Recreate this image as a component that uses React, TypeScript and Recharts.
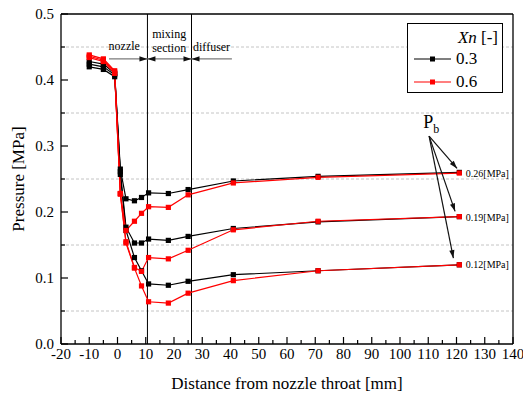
import React from "react";
import { ComposedChart, Line, XAxis, YAxis, ReferenceLine, ReferenceDot } from "recharts";

// distance from nozzle throat [mm]
const X_MM = [-10, -5, -1, 1, 3, 6, 8.5, 11, 18, 25, 41, 71, 121];

// Xn = 0.3 (black), one list per back pressure
const XN03_PB026 = [0.428, 0.424, 0.41, 0.265, 0.22, 0.217, 0.222, 0.229, 0.228, 0.234, 0.247, 0.254, 0.26];
const XN03_PB019 = [0.424, 0.42, 0.408, 0.261, 0.177, 0.153, 0.153, 0.159, 0.157, 0.163, 0.175, 0.185, 0.193];
const XN03_PB012 = [0.42, 0.416, 0.405, 0.257, 0.172, 0.131, 0.111, 0.091, 0.089, 0.095, 0.105, 0.111, 0.12];

// Xn = 0.6 (red)
const XN06_PB026 = [0.438, 0.432, 0.414, 0.228, 0.172, 0.186, 0.198, 0.208, 0.207, 0.226, 0.244, 0.2525, 0.259];
const XN06_PB019 = [0.436, 0.43, 0.412, 0.228, 0.155, 0.116, 0.11, 0.131, 0.129, 0.142, 0.173, 0.186, 0.193];
const XN06_PB012 = [0.434, 0.428, 0.41, 0.227, 0.153, 0.115, 0.088, 0.064, 0.062, 0.077, 0.096, 0.111, 0.12];

const X_TICKS = [-20, -15, -10, -5, 0, 5, 10, 15, 20, 25, 30, 35, 40, 45, 50, 55, 60, 65, 70, 75, 80, 85, 90, 95, 100, 105, 110, 115, 120, 125, 130, 135, 140];
const Y_TICKS = [0, 0.05, 0.1, 0.15, 0.2, 0.25, 0.3, 0.35, 0.4, 0.45, 0.5];
const GRID_Y = [0.05, 0.15, 0.25, 0.35, 0.45];
const SECTION_X = [10.6, 26.2];
const PB_LABELS = ["0.26[MPa]", "0.19[MPa]", "0.12[MPa]"];
const PB_LABEL_Y = [0.259, 0.192, 0.121];
const PB_ARROW_TO = [
  { x: 120.2, y: 0.266 },
  { x: 119.5, y: 0.201 },
  { x: 118.9, y: 0.13 },
];
const LEGEND_XN = ["0.3", "0.6"];

const BLACK = "#000000";
const RED = "#ff0000";
const FONT = '"Liberation Serif", "Times New Roman", serif';

const SERIES = [
  { key: "b26", color: BLACK, values: XN03_PB026 },
  { key: "b19", color: BLACK, values: XN03_PB019 },
  { key: "b12", color: BLACK, values: XN03_PB012 },
  { key: "r26", color: RED, values: XN06_PB026 },
  { key: "r19", color: RED, values: XN06_PB019 },
  { key: "r12", color: RED, values: XN06_PB012 },
];

const toPoints = (vals: number[]) => X_MM.map((x, i) => ({ x, y: vals[i] }));

const square = (color: string) => (p: any) => (
  <rect key={`sq-${p.index}`} x={p.cx - 2.6} y={p.cy - 2.6} width={5.2} height={5.2} fill={color} />
);

function makeTick(side: "bottom" | "top" | "left" | "right") {
  return (p: any) => {
    const { x, y, index, payload } = p;
    const major = index % 2 === 0;
    const len = major ? 7 : 4;
    let line;
    if (side === "bottom") line = <line x1={x} y1={y} x2={x} y2={y - len} />;
    else if (side === "top") line = <line x1={x} y1={y} x2={x} y2={y + len} />;
    else if (side === "left") line = <line x1={x} y1={y} x2={x + len} y2={y} />;
    else line = <line x1={x} y1={y} x2={x - len} y2={y} />;
    return (
      <g>
        <g stroke={BLACK} strokeWidth={1.2}>{line}</g>
        {major && side === "bottom" && (
          <text x={x} y={y + 15} textAnchor="middle" fontSize={15} fill={BLACK}>
            {payload.value}
          </text>
        )}
        {major && side === "left" && (
          <text x={x - 7} y={y + 5} textAnchor="end" fontSize={15} fill={BLACK}>
            {Number(payload.value).toFixed(1)}
          </text>
        )}
      </g>
    );
  };
}

const arrowShape = (startHead: boolean, endHead: boolean, lineColor: string) => (p: any) => {
  const { x1, y1, x2, y2 } = p;
  const a = Math.atan2(y2 - y1, x2 - x1);
  const head = (hx: number, hy: number, ang: number) => {
    const l = 8;
    const w = 2.6;
    const bx = hx - l * Math.cos(ang);
    const by = hy - l * Math.sin(ang);
    const px = -Math.sin(ang) * w;
    const py = Math.cos(ang) * w;
    return `${hx},${hy} ${bx + px},${by + py} ${bx - px},${by - py}`;
  };
  return (
    <g>
      <line x1={x1} y1={y1} x2={x2} y2={y2} stroke={lineColor} strokeWidth={1.2} />
      {endHead && <polygon points={head(x2, y2, a)} fill="#111" />}
      {startHead && <polygon points={head(x1, y1, a + Math.PI)} fill="#111" />}
    </g>
  );
};

const textAt = (value: string, size: number, anchor: "middle" | "start" = "middle") => ({
  content: (p: any) => {
    const vb = p.viewBox || {};
    return (
      <text x={vb.x} y={vb.y} dy="0.35em" textAnchor={anchor} fontSize={size} fill={BLACK} fontFamily={FONT}>
        {value}
      </text>
    );
  },
});

export default function App() {
  return (
    <div style={{ position: "absolute", left: 0, top: 0, width: 523, height: 399, background: "#fff", fontFamily: FONT }}>
      <ComposedChart width={523} height={399} margin={{ top: 13, right: 9, left: 0, bottom: 25 }}>
        <XAxis
          dataKey="x"
          type="number"
          domain={[-20, 140]}
          ticks={X_TICKS}
          interval={0}
          height={30}
          tickSize={0}
          tickMargin={0}
          tickLine={false}
          tick={makeTick("bottom")}
          axisLine={{ stroke: BLACK, strokeWidth: 1.3 }}
          label={{
            content: (p: any) => {
              const vb = p.viewBox;
              return (
                <text x={vb.x + vb.width / 2} y={vb.y + 45} textAnchor="middle" fontSize={17} fill={BLACK} fontFamily={FONT}>
                  Distance from nozzle throat [mm]
                </text>
              );
            },
          }}
        />
        <XAxis
          xAxisId="top"
          orientation="top"
          dataKey="x"
          type="number"
          domain={[-20, 140]}
          ticks={X_TICKS}
          interval={0}
          height={1}
          tickSize={0}
          tickMargin={0}
          tickLine={false}
          tick={makeTick("top")}
          axisLine={{ stroke: BLACK, strokeWidth: 1.3 }}
        />
        <YAxis
          type="number"
          domain={[0, 0.5]}
          ticks={Y_TICKS}
          interval={0}
          width={61}
          tickSize={0}
          tickMargin={0}
          tickLine={false}
          tick={makeTick("left")}
          axisLine={{ stroke: BLACK, strokeWidth: 1.3 }}
          label={{
            content: (p: any) => {
              const vb = p.viewBox;
              const cx = vb.x + 24;
              const cy = vb.y + vb.height / 2;
              return (
                <text x={cx} y={cy} transform={`rotate(-90 ${cx} ${cy})`} textAnchor="middle" fontSize={17} fill={BLACK} fontFamily={FONT}>
                  Pressure [MPa]
                </text>
              );
            },
          }}
        />
        <YAxis
          yAxisId="right"
          orientation="right"
          type="number"
          domain={[0, 0.5]}
          ticks={Y_TICKS}
          interval={0}
          width={1}
          tickSize={0}
          tickMargin={0}
          tickLine={false}
          tick={makeTick("right")}
          axisLine={{ stroke: BLACK, strokeWidth: 1.3 }}
        />

        {GRID_Y.map((v) => (
          <ReferenceLine key={`g${v}`} y={v} stroke="#c4c4c4" strokeDasharray="3 2" strokeWidth={1} />
        ))}
        {SECTION_X.map((v) => (
          <ReferenceLine key={`s${v}`} x={v} stroke={BLACK} strokeWidth={1} />
        ))}

        <ReferenceLine segment={[{ x: -3, y: 0.432 }, { x: SECTION_X[0], y: 0.432 }]} shape={arrowShape(false, true, "#7a7a7a")} />
        <ReferenceLine segment={[{ x: SECTION_X[0], y: 0.432 }, { x: SECTION_X[1], y: 0.432 }]} shape={arrowShape(true, true, "#7a7a7a")} />
        <ReferenceLine segment={[{ x: SECTION_X[1], y: 0.432 }, { x: 40.5, y: 0.432 }]} shape={arrowShape(true, false, "#7a7a7a")} />

        <ReferenceDot x={2.4} y={0.4515} r={0} fill="none" stroke="none" label={textAt("nozzle", 12)} />
        <ReferenceDot x={18.3} y={0.4697} r={0} fill="none" stroke="none" label={textAt("mixing", 12)} />
        <ReferenceDot x={18.3} y={0.449} r={0} fill="none" stroke="none" label={textAt("section", 12)} />
        <ReferenceDot x={33.3} y={0.45} r={0} fill="none" stroke="none" label={textAt("diffuser", 12)} />

        {SERIES.map((s) => (
          <Line
            key={s.key}
            data={toPoints(s.values)}
            dataKey="y"
            type="linear"
            stroke={s.color}
            strokeWidth={1.2}
            dot={square(s.color)}
            activeDot={false}
            isAnimationActive={false}
          />
        ))}

        {PB_ARROW_TO.map((t, i) => (
          <ReferenceLine key={`pa${i}`} segment={[{ x: 110.3, y: 0.315 }, t]} shape={arrowShape(false, true, "#111")} />
        ))}
        <ReferenceDot
          x={108.2}
          y={0.327}
          r={0}
          fill="none"
          stroke="none"
          label={{
            content: (p: any) => {
              const vb = p.viewBox || {};
              return (
                <text x={vb.x} y={vb.y} fontSize={18} fill={BLACK} fontFamily={FONT}>
                  P
                  <tspan fontSize={12} dy={5}>b</tspan>
                </text>
              );
            },
          }}
        />
        {PB_LABELS.map((t, i) => (
          <ReferenceDot key={`pl${i}`} x={123.3} y={PB_LABEL_Y[i]} r={0} fill="none" stroke="none" label={textAt(t, 10, "start")} />
        ))}
      </ComposedChart>

      <div
        style={{
          position: "absolute",
          left: 407,
          top: 23,
          width: 96,
          height: 70,
          boxSizing: "border-box",
          border: "1px solid #000",
          background: "#fff",
          fontSize: 17,
          color: "#000",
        }}
      >
        <div style={{ position: "absolute", right: 4, top: 4, lineHeight: "20px" }}>
          <i>Xn</i> [-]
        </div>
        {LEGEND_XN.map((lab, i) => {
          const color = i === 0 ? BLACK : RED;
          return (
            <div key={lab} style={{ position: "absolute", left: 6, top: 25 + 23 * i, height: 20, display: "flex", alignItems: "center" }}>
              <svg width={37} height={20} style={{ display: "block" }}>
                <line x1={0} y1={10} x2={37} y2={10} stroke={color} strokeWidth={1.2} />
                <rect x={16} y={7.5} width={5} height={5} fill={color} />
              </svg>
              <span style={{ marginLeft: 5, lineHeight: "20px" }}>{lab}</span>
            </div>
          );
        })}
      </div>
    </div>
  );
}
